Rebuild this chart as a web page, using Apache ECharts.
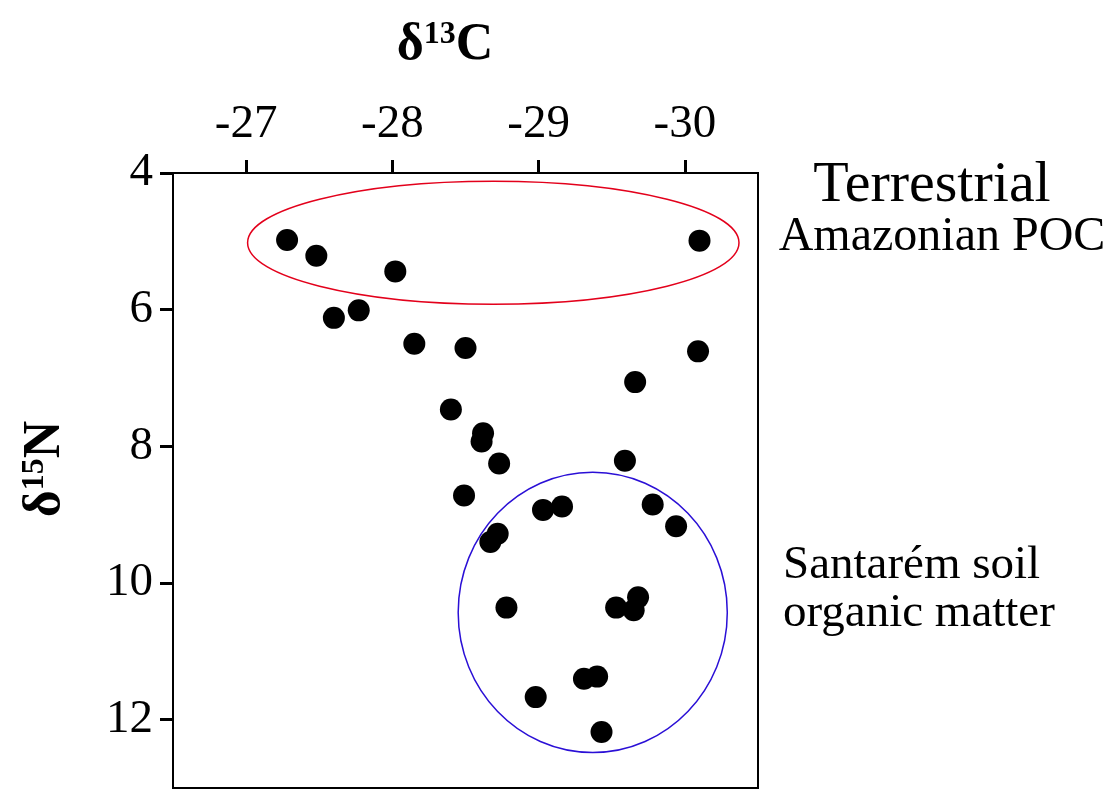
<!DOCTYPE html>
<html><head><meta charset="utf-8">
<script src="https://cdn.jsdelivr.net/npm/echarts@6/dist/echarts.min.js"></script>
<style>html,body{margin:0;padding:0;background:#fff}#c{width:1117px;height:790px}</style>
</head><body><div id="c"></div>
<script>
// δ13C and δ15N of each sample
const d13C = [-27.28,-27.48,-28.02,-27.60,-27.77,-28.15,-28.50,-30.10,-30.09,-29.66,
              -28.40,-28.62,-28.61,-28.73,-28.49,-29.59,-29.03,-29.16,-28.72,-28.67,
              -29.78,-29.94,-28.78,-29.53,-29.65,-29.68,-29.31,-29.40,-28.98,-29.43];
const d15N = [4.98,5.21,5.44,6.12,6.01,6.50,6.56,4.99,6.61,7.06,
              7.46,7.81,7.93,8.25,8.72,8.21,8.93,8.88,9.28,9.40,
              8.85,9.17,10.36,10.36,10.40,10.21,11.40,11.37,11.67,12.18];
const xTicks = [-27,-28,-29,-30];
const yTicks = [4,6,8,10,12];
// end-member fields (ellipses): centre and half-width in data units
const fieldNames = ['Terrestrial Amazonian POC','Santarém soil organic matter'];
const fieldCenterC = [-28.69,-29.37];
const fieldCenterN = [5.02,10.43];
const fieldHalfC = [1.68,0.92];
const fieldHalfN = [0.90,2.05];
const fieldColors = ['#e3001b','#2a0fd6'];

const FONT = '"Liberation Serif", "Times New Roman", serif';
const chart = echarts.init(document.getElementById('c'), null, {renderer:'canvas'});
chart.setOption({
  backgroundColor:'#fff',
  animation:false,
  grid:{left:173, top:173, right:359, bottom:2, show:true, borderColor:'#000', borderWidth:2, backgroundColor:'transparent'},
  xAxis:{
    type:'value', position:'top', inverse:true, min:-30.5, max:-26.5,
    axisLine:{show:true, onZero:false, lineStyle:{color:'#000', width:2}},
    axisTick:{show:true, customValues:xTicks, length:13, lineStyle:{color:'#000', width:3}},
    axisLabel:{customValues:xTicks, fontSize:47, fontFamily:FONT, color:'#000', margin:25},
    splitLine:{show:false}
  },
  yAxis:{
    type:'value', inverse:true, min:4, max:13,
    axisLine:{show:true, onZero:false, lineStyle:{color:'#000', width:2}},
    axisTick:{show:true, customValues:yTicks, length:13, lineStyle:{color:'#000', width:3}},
    axisLabel:{customValues:yTicks, fontSize:47, fontFamily:FONT, color:'#000', margin:20},
    splitLine:{show:false}
  },
  series:[
    {
      type:'custom', coordinateSystem:'cartesian2d', silent:true, z:1,
      data: fieldCenterC.map((c,i)=>[c, fieldCenterN[i], fieldHalfC[i], fieldHalfN[i], i]),
      encode:{x:0, y:1},
      renderItem:(params, api)=>{
        const p = api.coord([api.value(0), api.value(1)]);
        const s = api.size([api.value(2)*2, api.value(3)*2]);
        return {type:'ellipse', shape:{cx:p[0], cy:p[1], rx:s[0]/2, ry:s[1]/2},
                style:{fill:null, stroke:fieldColors[api.value(4)], lineWidth:1.5}};
      }
    },
    {
      type:'scatter', z:2, symbol:'circle', symbolSize:22,
      itemStyle:{color:'#000', opacity:1},
      data: d13C.map((c,i)=>[c, d15N[i]])
    }
  ],
  graphic:[
    {type:'text', x:445, y:46, style:{text:'{a|δ}{s|13}{a|C}', textAlign:'center', textVerticalAlign:'middle',
      rich:{a:{fontSize:52, fontWeight:'bold', fontFamily:FONT, fill:'#000', lineHeight:54},
            s:{fontSize:32, fontWeight:'bold', fontFamily:FONT, fill:'#000', verticalAlign:'top', lineHeight:54}}}},
    {type:'text', x:46, y:469, rotation:Math.PI/2, style:{text:'{a|δ}{s|15}{a|N}', textAlign:'center', textVerticalAlign:'middle',
      rich:{a:{fontSize:52, fontWeight:'bold', fontFamily:FONT, fill:'#000', lineHeight:54},
            s:{fontSize:32, fontWeight:'bold', fontFamily:FONT, fill:'#000', verticalAlign:'top', lineHeight:54}}}},
    {type:'text', x:932, y:186, style:{text:'Terrestrial', textAlign:'center', textVerticalAlign:'middle', fontSize:58, fontFamily:FONT, fill:'#000'}},
    {type:'text', x:942, y:237, style:{text:'Amazonian POC', textAlign:'center', textVerticalAlign:'middle', fontSize:48, fontFamily:FONT, fill:'#000'}},
    {type:'text', x:783, y:566, style:{text:'Santarém soil', textAlign:'left', textVerticalAlign:'middle', fontSize:47, fontFamily:FONT, fill:'#000'}},
    {type:'text', x:783, y:614, style:{text:'organic matter', textAlign:'left', textVerticalAlign:'middle', fontSize:47, fontFamily:FONT, fill:'#000'}}
  ]
});
</script></body></html>
